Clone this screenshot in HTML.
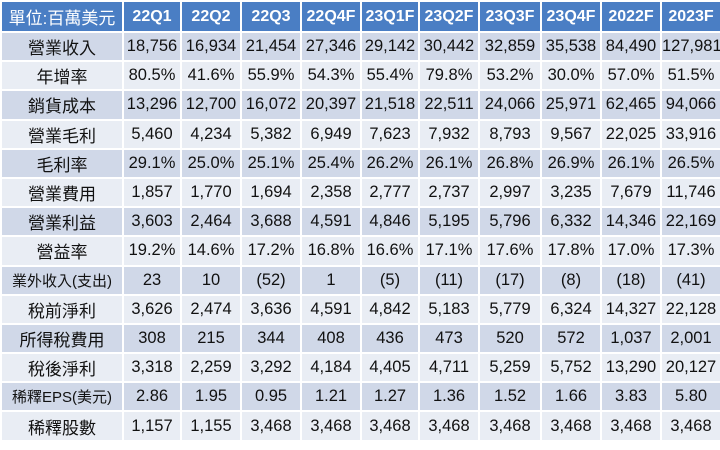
<!DOCTYPE html>
<html><head><meta charset="utf-8"><style>
html,body{margin:0;padding:0;background:#fff;width:720px;height:450px;overflow:hidden}
table{border-collapse:collapse;table-layout:fixed;width:720px;font-family:"Liberation Sans","Noto Sans CJK TC",sans-serif;font-size:16.5px;color:#111}
td,th{border:2px solid #fff;text-align:center;padding:0;height:27.2px;white-space:nowrap;overflow:hidden}
th{background:#4a7ec4;color:#fff;font-weight:bold;height:29px;font-size:16px}
th.u{font-weight:normal;font-size:17px}
tr.o td{background:#d0d8e8}
tr.e td{background:#e9edf4}
td.l{font-size:17px}
</style></head><body>
<table>
<colgroup><col style="width:122px"><col style="width:58px"><col style="width:60px"><col style="width:60px"><col style="width:60px"><col style="width:58px"><col style="width:60px"><col style="width:62px"><col style="width:60px"><col style="width:60px"><col style="width:60px"></colgroup>
<tbody id="tb"></tbody></table>
<script>
const headers=["單位:百萬美元","22Q1","22Q2","22Q3","22Q4F","23Q1F","23Q2F","23Q3F","23Q4F","2022F","2023F"];
const rows=[
["營業收入","18,756","16,934","21,454","27,346","29,142","30,442","32,859","35,538","84,490","127,981"],
["年增率","80.5%","41.6%","55.9%","54.3%","55.4%","79.8%","53.2%","30.0%","57.0%","51.5%"],
["銷貨成本","13,296","12,700","16,072","20,397","21,518","22,511","24,066","25,971","62,465","94,066"],
["營業毛利","5,460","4,234","5,382","6,949","7,623","7,932","8,793","9,567","22,025","33,916"],
["毛利率","29.1%","25.0%","25.1%","25.4%","26.2%","26.1%","26.8%","26.9%","26.1%","26.5%"],
["營業費用","1,857","1,770","1,694","2,358","2,777","2,737","2,997","3,235","7,679","11,746"],
["營業利益","3,603","2,464","3,688","4,591","4,846","5,195","5,796","6,332","14,346","22,169"],
["營益率","19.2%","14.6%","17.2%","16.8%","16.6%","17.1%","17.6%","17.8%","17.0%","17.3%"],
["業外收入(支出)","23","10","(52)","1","(5)","(11)","(17)","(8)","(18)","(41)"],
["稅前淨利","3,626","2,474","3,636","4,591","4,842","5,183","5,779","6,324","14,327","22,128"],
["所得稅費用","308","215","344","408","436","473","520","572","1,037","2,001"],
["稅後淨利","3,318","2,259","3,292","4,184","4,405","4,711","5,259","5,752","13,290","20,127"],
["稀釋EPS(美元)","2.86","1.95","0.95","1.21","1.27","1.36","1.52","1.66","3.83","5.80"],
["稀釋股數","1,157","1,155","3,468","3,468","3,468","3,468","3,468","3,468","3,468","3,468"]];
const tb=document.getElementById('tb');
const hr=document.createElement('tr');


headers.forEach((h,i)=>{const th=document.createElement('th');th.textContent=h;if(i==0)th.className='u';


hr.appendChild(th);});
tb.appendChild(hr);
rows.forEach((r,ri)=>{const tr=document.createElement('tr');tr.className=ri%2?'e':'o';


r.forEach((c,ci)=>{const td=document.createElement('td');td.textContent=c;if(ci==0){td.className='l';if(c.length>6)td.style.fontSize='15px';}


tr.appendChild(td);});
tb.appendChild(tr);});
</script>
</body></html>
